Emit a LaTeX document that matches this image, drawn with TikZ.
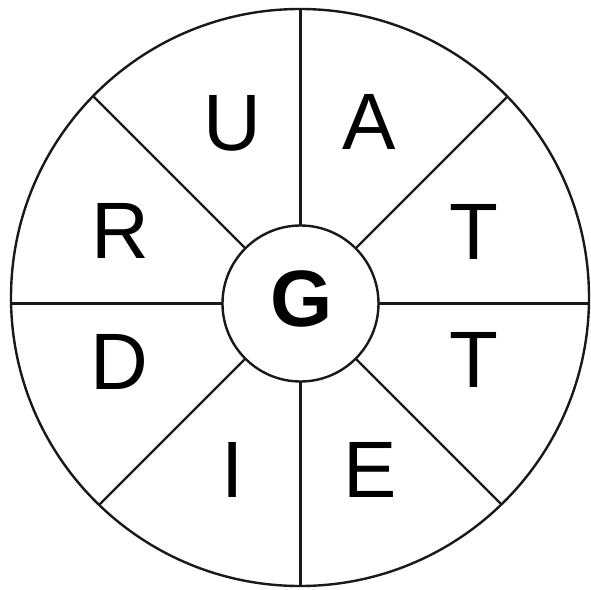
\documentclass[tikz,border=0pt]{standalone}
\usepackage{fontspec}
\setmainfont{Liberation Sans}
\begin{document}
\begin{tikzpicture}[x=1pt,y=-1pt,
  wheel/.style={draw=black!90,line width=2.4pt},
  letter/.style={inner sep=0pt,anchor=center,font=\fontsize{80}{96}\selectfont},
  hub/.style={circle,draw=black!90,line width=2.4pt,fill=white,minimum size=156pt,inner sep=0pt,font=\fontsize{80}{96}\selectfont\bfseries}]
\useasboundingbox (0,0) rectangle (591,589);
\path[fill=white] (0,0) rectangle (591,589);
\coordinate (oc) at (300,297.5);
\coordinate (ic) at (300.5,303.5);
\begin{scope}
  \clip (oc) ellipse [x radius=289, y radius=288.5];
  \foreach \a in {0,45,...,315}
    \draw[wheel] (ic) -- ++(\a:-400);
\end{scope}
\draw[wheel] (oc) ellipse [x radius=289, y radius=288.5];
\node[hub] (g) at (ic) {};
\node[inner sep=0pt,font=\fontsize{80}{96}\selectfont\bfseries] (gl) at (302,299) {G};
\node[letter] (u) at (232,123) {U};
\node[letter] (a) at (369,122) {A};
\node[letter] (t1) at (474,232) {T};
\node[letter] (t2) at (474,360) {T};
\node[letter] (e) at (370,470) {E};
\node[letter] (i) at (233,470) {I};
\node[letter] (d) at (119,362) {D};
\node[letter] (r) at (120,231) {R};
\end{tikzpicture}
\end{document}
